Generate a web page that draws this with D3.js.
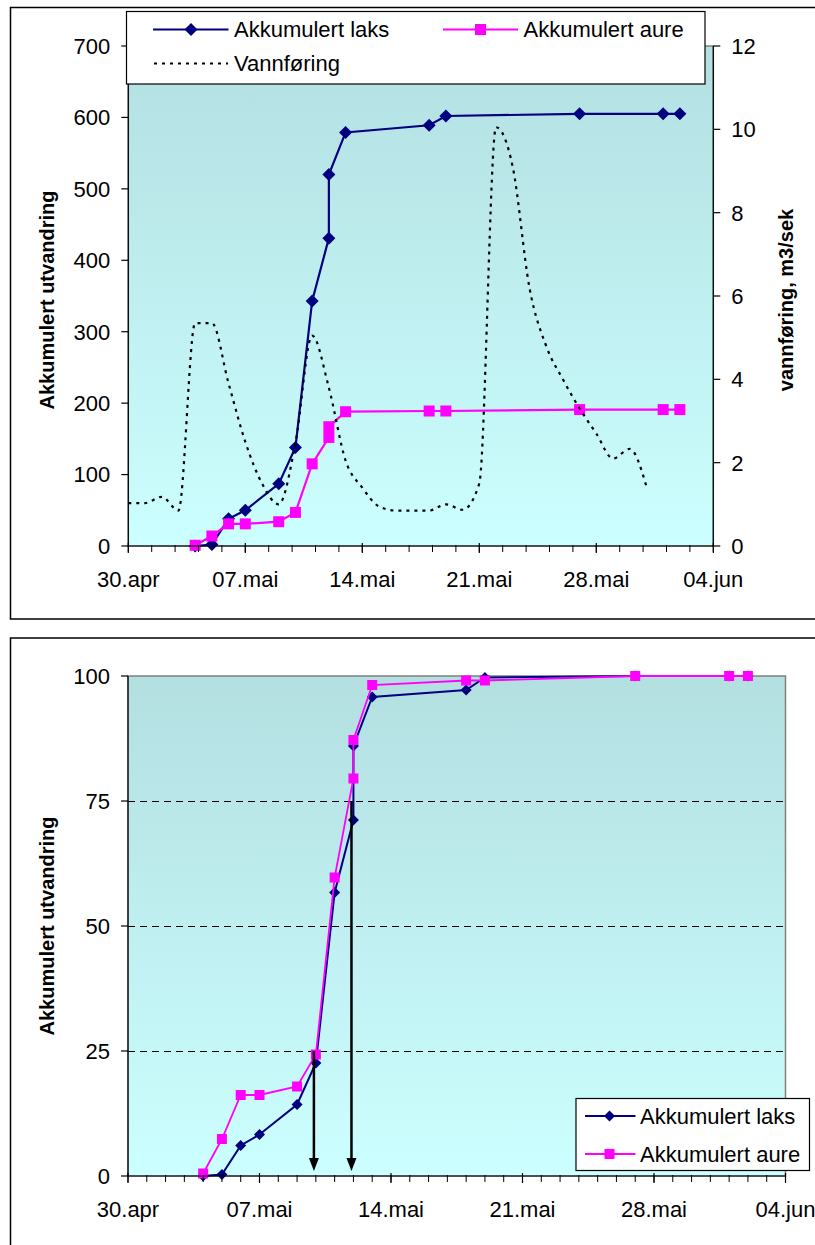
<!DOCTYPE html>
<html>
<head>
<meta charset="utf-8">
<script src="https://cdn.jsdelivr.net/npm/d3@7"></script>
<style>
  html, body { margin: 0; padding: 0; background: #fff; }
  svg { display: block; font-family: "Liberation Sans", Arial, sans-serif; }
</style>
</head>
<body>
<svg id="chart" width="815" height="1245"></svg>
<script>
// Tick dates on the time axis and their labels
const tickDates = ["30.04", "07.05", "14.05", "21.05", "28.05", "04.06"];
const tickLabels = ["30.apr", "07.mai", "14.mai", "21.mai", "28.mai", "04.jun"];

// Trap counting dates (two countings on 12. mai)
const fishDates = ["04.05", "05.05", "06.05", "07.05", "09.05", "10.05", "11.05",
                   "12.05", "12.05", "13.05", "18.05", "19.05", "27.05", "01.06", "02.06"];

// Cumulative number of migrating smolt
const laksCum = [0, 2, 38, 50, 87, 138, 343, 431, 520, 579, 589, 602, 605, 605, 605];
const aureCum = [1, 14, 31, 31, 34, 47, 115, 152, 167, 188, 189, 189, 191, 191, 191];

// Cumulative migration in percent
const laksPct = [0, 0.3, 6.1, 8.3, 14.3, 22.6, 56.7, 71.2, 86.0, 95.8, 97.2, 99.7, 100, 100, 100];
const aurePct = [0.5, 7.4, 16.2, 16.2, 17.9, 24.3, 59.7, 79.5, 87.2, 98.2, 99.1, 99.1, 100, 100, 100];

// Daily discharge (m3/sek) from 30. april
const flowStart = "30.04";
const flow = [1.03, 1.03, 1.18, 0.85, 5.35, 5.35, 3.9, 2.5, 1.5, 1.0, 2.47, 5.05, 3.8, 2.05,
              1.4, 0.95, 0.85, 0.85, 0.85, 1.0, 0.87, 1.5, 10.05, 9.1, 6.2, 4.8, 4.0, 3.3,
              2.7, 2.1, 2.33, 1.43];

// Times when 25 % and 75 % of the salmon had migrated
const arrowTimes = ["09.05 21:30", "11.05 21:30"];
const arrowFrom = [25, 75];
const arrowTo = 1;

const legendTop = ["Akkumulert laks", "Akkumulert aure", "Vannføring"];
const legendBottom = ["Akkumulert laks", "Akkumulert aure"];

const parseDay = d3.utcParse("%d.%m");
const parseTime = d3.utcParse("%d.%m %H:%M");
const DAY = 864e5;

const svg = d3.select("#chart");
const LAKS = "#000080", AURE = "#ff00ff";
const FONT = 22;

const defs = svg.append("defs");
const grad = defs.append("linearGradient").attr("id", "plotbg")
  .attr("x1", 0).attr("y1", 0).attr("x2", 0).attr("y2", 1);
grad.append("stop").attr("offset", 0).attr("stop-color", "#b3dfe1");
grad.append("stop").attr("offset", 1).attr("stop-color", "#ccffff");

const fishT = fishDates.map(parseDay);
const t0 = parseDay(tickDates[0]);
const t1 = parseDay(tickDates[tickDates.length - 1]);

function diamond(g, x, y, s) {
  g.append("path")
    .attr("d", `M${x},${y - s}L${x + s},${y}L${x},${y + s}L${x - s},${y}Z`)
    .attr("fill", LAKS);
}
function square(g, x, y, s) {
  g.append("rect").attr("x", x - s).attr("y", y - s)
    .attr("width", 2 * s).attr("height", 2 * s).attr("fill", AURE);
}

function timeAxis(g, x, yPix, minorStepDays, labelY) {
  const ax = g.append("g");
  ax.append("line").attr("x1", x.range()[0]).attr("x2", x.range()[1])
    .attr("y1", yPix).attr("y2", yPix).attr("stroke", "#000").attr("stroke-width", 1.2);
  const span = (t1 - t0) / DAY;
  const n = Math.round(span / minorStepDays);
  for (let i = 0; i <= n; i++) {
    const t = new Date(t0.getTime() + i * minorStepDays * DAY);
    const xp = x(t);
    ax.append("line").attr("x1", xp).attr("x2", xp).attr("y1", yPix - 1).attr("y2", yPix + 6)
      .attr("stroke", "#000").attr("stroke-width", 1);
  }
  tickDates.forEach((d, i) => {
    const xp = x(parseDay(d));
    ax.append("line").attr("x1", xp).attr("x2", xp).attr("y1", yPix - 3).attr("y2", yPix + 7)
      .attr("stroke", "#000").attr("stroke-width", 1.2);
    ax.append("text").attr("x", xp).attr("y", labelY).attr("text-anchor", "middle")
      .attr("font-size", FONT).text(tickLabels[i]);
  });
}

function yAxis(g, y, xPix, ticks, side) {
  const ax = g.append("g");
  ax.append("line").attr("x1", xPix).attr("x2", xPix)
    .attr("y1", y.range()[0]).attr("y2", y.range()[1]).attr("stroke", "#000").attr("stroke-width", 1.2);
  ticks.forEach(v => {
    const yp = y(v);
    const dir = side === "left" ? -1 : 1;
    ax.append("line").attr("x1", xPix).attr("x2", xPix + dir * 7).attr("y1", yp).attr("y2", yp)
      .attr("stroke", "#000").attr("stroke-width", 1.2);
    ax.append("text").attr("x", xPix + dir * 18).attr("y", yp).attr("dy", "0.36em")
      .attr("text-anchor", side === "left" ? "end" : "start")
      .attr("font-size", FONT).text(v);
  });
}

function axisTitle(g, x, y, text) {
  g.append("text").attr("transform", `translate(${x},${y}) rotate(-90)`)
    .attr("text-anchor", "middle").attr("dy", "0.36em")
    .attr("font-size", 20).attr("font-weight", "bold").text(text);
}

/* ---------------- Upper chart: cumulative numbers and discharge ---------------- */
{
  const g = svg.append("g");
  g.append("rect").attr("x", 10.5).attr("y", 7.5).attr("width", 830).attr("height", 611.5)
    .attr("fill", "#fff").attr("stroke", "#000").attr("stroke-width", 1.5);

  const x = d3.scaleUtc().domain([t0, t1]).range([128.3, 713.3]);
  const y = d3.scaleLinear().domain([0, 700]).range([546, 46]);
  const y2 = d3.scaleLinear().domain([0, 12]).range([546, 46]);

  g.append("rect").attr("x", x.range()[0]).attr("y", y(700))
    .attr("width", x.range()[1] - x.range()[0]).attr("height", y(0) - y(700))
    .attr("fill", "url(#plotbg)").attr("stroke", "#808080").attr("stroke-width", 1.5);

  // laks
  const lineL = d3.line().x((d, i) => x(fishT[i])).y(d => y(d));
  g.append("path").datum(laksCum).attr("d", lineL).attr("fill", "none")
    .attr("stroke", LAKS).attr("stroke-width", 2.2);
  laksCum.forEach((v, i) => diamond(g, x(fishT[i]), y(v), 6.5));

  // aure
  g.append("path").datum(aureCum).attr("d", lineL).attr("fill", "none")
    .attr("stroke", AURE).attr("stroke-width", 2.2);
  aureCum.forEach((v, i) => square(g, x(fishT[i]), y(v), 5.5));

  // discharge on the secondary axis, smoothed
  const fs = parseDay(flowStart);
  const lineF = d3.line()
    .x((d, i) => x(new Date(fs.getTime() + i * DAY)))
    .y(d => y2(d))
    .curve(d3.curveMonotoneX);
  g.append("path").datum(flow).attr("d", lineF).attr("fill", "none")
    .attr("stroke", "#000").attr("stroke-width", 2.2).attr("stroke-dasharray", "3,5");

  yAxis(g, y, x.range()[0], d3.range(0, 701, 100), "left");
  yAxis(g, y2, x.range()[1], d3.range(0, 13, 2), "right");
  timeAxis(g, x, y(0), 1.4, 587);

  axisTitle(g, 47, 300, "Akkumulert utvandring");
  axisTitle(g, 786, 300, "vannføring, m3/sek");

  // legend
  const lg = g.append("g");
  lg.append("rect").attr("x", 126.5).attr("y", 11.5).attr("width", 578.5).attr("height", 72.5)
    .attr("fill", "#fff").attr("stroke", "#000").attr("stroke-width", 1.2);
  const r1 = 29.5, r2 = 63.5;
  lg.append("line").attr("x1", 153).attr("x2", 228.5).attr("y1", r1).attr("y2", r1)
    .attr("stroke", LAKS).attr("stroke-width", 2.2);
  diamond(lg, 191, r1, 6.5);
  lg.append("text").attr("x", 234).attr("y", r1).attr("dy", "0.36em").attr("font-size", FONT).text(legendTop[0]);
  lg.append("line").attr("x1", 443).attr("x2", 518).attr("y1", r1).attr("y2", r1)
    .attr("stroke", AURE).attr("stroke-width", 2.2);
  square(lg, 480.5, r1, 5.5);
  lg.append("text").attr("x", 523.5).attr("y", r1).attr("dy", "0.36em").attr("font-size", FONT).text(legendTop[1]);
  lg.append("line").attr("x1", 154).attr("x2", 228).attr("y1", r2).attr("y2", r2)
    .attr("stroke", "#000").attr("stroke-width", 2.2).attr("stroke-dasharray", "3,5");
  lg.append("text").attr("x", 234).attr("y", r2).attr("dy", "0.36em").attr("font-size", FONT).text(legendTop[2]);
}

/* ---------------- Lower chart: cumulative migration in percent ---------------- */
{
  const g = svg.append("g");
  g.append("rect").attr("x", 10.5).attr("y", 638).attr("width", 830).attr("height", 640)
    .attr("fill", "#fff").attr("stroke", "#000").attr("stroke-width", 1.5);

  const x = d3.scaleUtc().domain([t0, t1]).range([128, 785.5]);
  const y = d3.scaleLinear().domain([0, 100]).range([1176, 676]);

  g.append("rect").attr("x", x.range()[0]).attr("y", y(100))
    .attr("width", x.range()[1] - x.range()[0]).attr("height", y(0) - y(100))
    .attr("fill", "url(#plotbg)").attr("stroke", "#808080").attr("stroke-width", 1.5);

  [25, 50, 75].forEach(v => {
    g.append("line").attr("x1", x.range()[0]).attr("x2", x.range()[1])
      .attr("y1", Math.round(y(v)) + 0.5).attr("y2", Math.round(y(v)) + 0.5)
      .attr("stroke", "#000").attr("stroke-width", 1)
      .attr("stroke-dasharray", "7,5");
  });

  const line = d3.line().x((d, i) => x(fishT[i])).y(d => y(d));
  g.append("path").datum(laksPct).attr("d", line).attr("fill", "none")
    .attr("stroke", LAKS).attr("stroke-width", 2);
  laksPct.forEach((v, i) => diamond(g, x(fishT[i]), y(v), 5.5));
  g.append("path").datum(aurePct).attr("d", line).attr("fill", "none")
    .attr("stroke", AURE).attr("stroke-width", 1.8);
  aurePct.forEach((v, i) => square(g, x(fishT[i]), y(v), 5));

  // arrows down to the date axis
  arrowTimes.forEach((t, i) => {
    const xp = x(parseTime(t));
    const tip = y(arrowTo);
    g.append("line").attr("x1", xp).attr("x2", xp).attr("y1", y(arrowFrom[i])).attr("y2", tip - 10)
      .attr("stroke", "#000").attr("stroke-width", 2.5);
    g.append("path").attr("d", `M${xp - 5},${tip - 13}L${xp + 5},${tip - 13}L${xp},${tip}Z`)
      .attr("fill", "#000");
  });

  yAxis(g, y, x.range()[0], [0, 25, 50, 75, 100], "left");
  timeAxis(g, x, y(0), 1, 1217);
  axisTitle(g, 47, 926, "Akkumulert utvandring");

  const lg = g.append("g");
  lg.append("rect").attr("x", 576).attr("y", 1098.5).attr("width", 233.5).attr("height", 72)
    .attr("fill", "#fff").attr("stroke", "#000").attr("stroke-width", 1.2);
  const r1 = 1116, r2 = 1154;
  lg.append("line").attr("x1", 585).attr("x2", 635.5).attr("y1", r1).attr("y2", r1)
    .attr("stroke", LAKS).attr("stroke-width", 2);
  diamond(lg, 609.5, r1, 5.5);
  lg.append("text").attr("x", 640).attr("y", r1).attr("dy", "0.36em").attr("font-size", FONT).text(legendBottom[0]);
  lg.append("line").attr("x1", 585).attr("x2", 635.5).attr("y1", r2).attr("y2", r2)
    .attr("stroke", AURE).attr("stroke-width", 2);
  square(lg, 609.5, r2, 5);
  lg.append("text").attr("x", 640).attr("y", r2).attr("dy", "0.36em").attr("font-size", FONT).text(legendBottom[1]);
}
</script>
</body>
</html>
